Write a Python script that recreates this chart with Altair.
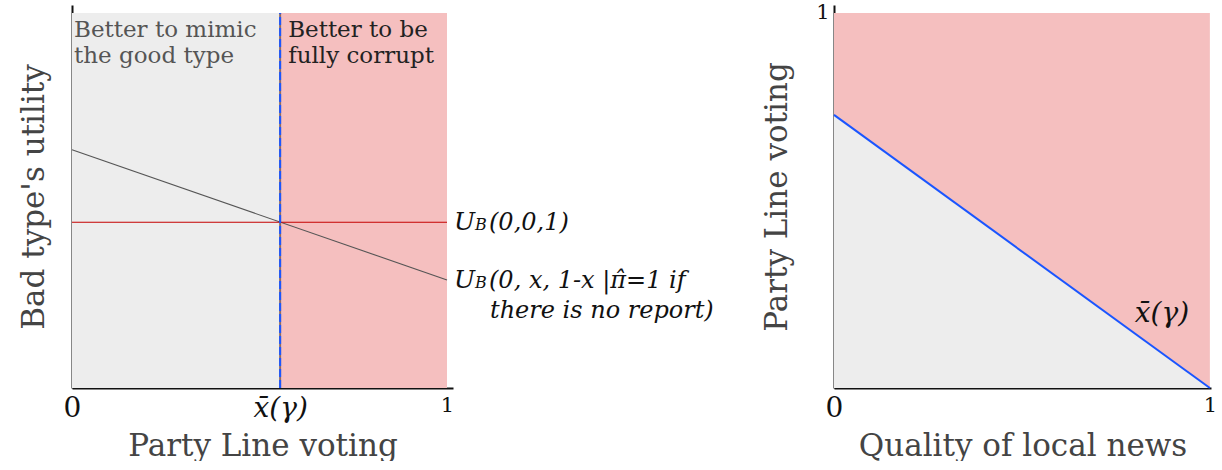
import altair as alt
import pandas as pd

FONT = "DejaVu Serif"

# ---- left panel: bad type's utility against party-line voting ----
X_BAR = 0.555                 # threshold x̄(γ)
MIMIC_X = [0.0, 1.0]
MIMIC_U = [0.635, 0.288]      # U_B(0, x, 1-x | π̂=1 if there is no report)
CORRUPT_X = [0.0, 1.0]
CORRUPT_U = [0.442, 0.442]    # U_B(0,0,1)
LEFT_X_TICKS = [0.0, X_BAR, 1.0]
LEFT_X_LABELS = ["0", "x̄(γ)", "1"]

# ---- right panel: threshold against quality of local news ----
NEWS_X = [0.0, 1.0]
THRESH_Y = [0.728, 0.0]
RIGHT_X_TICKS = [0.0, 1.0]
RIGHT_X_LABELS = ["0", "1"]
RIGHT_Y_TICKS = [1.0]
RIGHT_Y_LABELS = ["1"]

GRAY_FILL = "#ededed"
PINK_FILL = "#f5bfbf"
BLUE = "#1a55ff"


def label_expr(values, labels):
    vals = ",".join(repr(v) for v in values)
    labs = ",".join("'" + s + "'" for s in labels)
    return f"[{labs}][indexof([{vals}], datum.value)]"


def axis(values, texts, title_pad, **kw):
    return alt.Axis(
        values=values,
        labelExpr=label_expr(values, texts),
        labelFlush=False,
        labelOverlap=False,
        ticks=False,
        grid=False,
        domainColor="#111",
        domainWidth=2,
        labelFont=FONT,
        labelColor="#111",
        titleFont=FONT,
        titleFontSize=31,
        titleFontWeight="normal",
        titleColor="#444",
        titlePadding=title_pad,
        **kw,
    )


def text_layer(X, Y, x, y, text, dx=0, dy=0, size=24, style="normal", color="#111", line_height=None):
    props = dict(font=FONT, fontSize=size, fontStyle=style, align="left",
                 baseline="alphabetic", dx=dx, dy=dy, color=color)
    if line_height:
        props.update(lineBreak="\n", lineHeight=line_height)
    df = pd.DataFrame({"x": [x], "y": [y], "t": [text]})
    return alt.Chart(df).mark_text(**props).encode(x=X("x"), y=Y("y"), text="t:N")


# shared encodings for the left panel
lx_scale = alt.Scale(domain=[0, 1.016], nice=False, zero=False)
ly_scale = alt.Scale(domain=[0, 1.021], nice=False, zero=False)
lx_axis = axis(
    LEFT_X_TICKS, LEFT_X_LABELS, 9,
    labelPadding=6,
    labelFontSize={"condition": {"test": "datum.value == 1", "value": 21}, "value": 28},
    labelFontStyle={"condition": {"test": "datum.value > 0 && datum.value < 1", "value": "italic"}, "value": "normal"},
)
ly_axis = axis([0.0], [""], 22, labels=False)


def LX(field):
    return alt.X(field, type="quantitative", scale=lx_scale, axis=lx_axis, title="Party Line voting")


def LY(field):
    return alt.Y(field, type="quantitative", scale=ly_scale, axis=ly_axis, title="Bad type's utility")


regions = pd.DataFrame({
    "x0": [0.0, X_BAR], "x1": [X_BAR, 1.0],
    "y0": [0.0, 0.0], "y1": [1.0, 1.0],
    "fill": [GRAY_FILL, PINK_FILL],
})
region_rects = alt.Chart(regions).mark_rect().encode(
    x=LX("x0"), x2="x1", y=LY("y0"), y2="y1",
    color=alt.Color("fill:N", scale=None),
)

note_mimic = text_layer(LX, LY, 0.0, 1.0, "Better to mimic\nthe good type",
                        dx=2, dy=24, size=23, color="#555555", line_height=26)
note_corrupt = text_layer(LX, LY, X_BAR, 1.0, "Better to be\nfully corrupt",
                          dx=8, dy=24, size=23, color="#222222", line_height=26)

mimic = pd.DataFrame({"x": MIMIC_X, "u": MIMIC_U})
corrupt = pd.DataFrame({"x": CORRUPT_X, "u": CORRUPT_U})
mimic_line = alt.Chart(mimic).mark_line(color="#555555", strokeWidth=1.1).encode(x=LX("x"), y=LY("u"))
corrupt_line = alt.Chart(corrupt).mark_line(color="#c40000", strokeWidth=1.1).encode(x=LX("x"), y=LY("u"))

divider = pd.DataFrame({"x": [X_BAR], "y0": [0.0], "y1": [1.0]})
divider_solid = alt.Chart(divider).mark_rule(color="#8a6a6a", strokeWidth=2).encode(
    x=LX("x"), y=LY("y0"), y2="y1")
divider_dash = alt.Chart(divider).mark_rule(color=BLUE, strokeWidth=2, strokeDash=[8, 3]).encode(
    x=LX("x"), y=LY("y0"), y2="y1")

# curve labels at the right end of each line: "U", small "B", then the arguments
curve_labels = []
for u, rest in [(CORRUPT_U[1], "(0,0,1)"), (MIMIC_U[1], "(0, x, 1-x |π̂=1 if")]:
    curve_labels += [
        text_layer(LX, LY, 1.0, u, "U", dx=7, dy=8, size=25, style="italic"),
        text_layer(LX, LY, 1.0, u, "B", dx=28, dy=8, size=16, style="italic"),
        text_layer(LX, LY, 1.0, u, rest, dx=42, dy=8, size=24, style="italic"),
    ]
curve_labels.append(
    text_layer(LX, LY, 1.0, MIMIC_U[1], "there is no report)", dx=43, dy=38, size=24, style="italic"))

left = alt.layer(
    region_rects, note_mimic, note_corrupt, mimic_line, corrupt_line,
    divider_solid, divider_dash, *curve_labels,
).properties(width=381, height=383)

# ---- right panel ----
rx_scale = alt.Scale(domain=[0, 1.003], nice=False, zero=False)
ry_scale = alt.Scale(domain=[0, 1.021], nice=False, zero=False)
rx_axis = axis(
    RIGHT_X_TICKS, RIGHT_X_LABELS, 9,
    labelPadding=6,
    labelFontSize={"condition": {"test": "datum.value == 1", "value": 21}, "value": 28},
)
ry_axis = axis(RIGHT_Y_TICKS, RIGHT_Y_LABELS, 22, labelPadding=5, labelFontSize=21, labelBaseline="middle")


def RX(field):
    return alt.X(field, type="quantitative", scale=rx_scale, axis=rx_axis, title="Quality of local news")


def RY(field):
    return alt.Y(field, type="quantitative", scale=ry_scale, axis=ry_axis, title="Party Line voting")


full = pd.DataFrame({"x0": [0.0], "x1": [1.0], "y0": [0.0], "y1": [1.0]})
pink_rect = alt.Chart(full).mark_rect(color=PINK_FILL).encode(x=RX("x0"), x2="x1", y=RY("y0"), y2="y1")

thresh = pd.DataFrame({"x": NEWS_X, "y": THRESH_Y, "base": [0.0, 0.0]})
gray_area = alt.Chart(thresh).mark_area(color=GRAY_FILL, opacity=1).encode(x=RX("x"), y=RY("y"), y2="base")
blue_line = alt.Chart(thresh).mark_line(color=BLUE, strokeWidth=2).encode(x=RX("x"), y=RY("y"))

thresh_text = text_layer(RX, RY, 0.8, THRESH_Y[0] * 0.2, "x̄(γ)", dy=-11, size=28, style="italic")

right = alt.layer(pink_rect, gray_area, blue_line, thresh_text).properties(width=377, height=383)

chart = alt.hconcat(left, right, spacing=381, bounds="flush").properties(
    padding={"left": 18, "top": 1, "right": 0, "bottom": 0},
).configure_view(stroke=None)

chart.save("out.html", embed_options={"renderer": "svg", "actions": False})
